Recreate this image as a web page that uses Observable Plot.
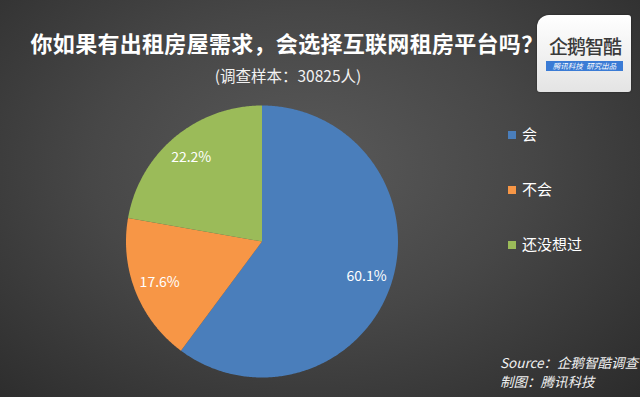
<!DOCTYPE html>
<html>
<head>
<meta charset="utf-8">
<script src="https://cdn.jsdelivr.net/npm/d3@7"></script>
<script src="https://cdn.jsdelivr.net/npm/@observablehq/plot@0.6"></script>
<style>
  html, body { margin: 0; padding: 0; }
  body { width: 640px; height: 397px; overflow: hidden; }
  #stage {
    position: relative; width: 640px; height: 397px;
    background: radial-gradient(ellipse 75% 85% at 48% 42%, #5a5a5a 0%, #474747 45%, #2a2a2a 100%);
    font-family: "Noto Sans CJK SC", "Noto Sans", sans-serif;
    color: #fff;
  }
  #title {
    position: absolute; left: 5px; width: 564px; top: 26px; text-align: center;
    font-size: 22px; font-weight: bold; letter-spacing: 0.3px; line-height: 32px;
  }
  #subtitle {
    position: absolute; left: 6px; width: 564px; top: 64px; text-align: center;
    font-size: 15.5px; line-height: 22px; color: #f2f2f2;
  }
  #logo {
    position: absolute; left: 537px; top: 15px; width: 94px; height: 77px;
    background: linear-gradient(#ffffff, #e4e4e4);
    border-radius: 12px 3px 3px 3px;
    box-shadow: 0 0 2px rgba(0,0,0,0.5);
  }
  #logo .name {
    position: absolute; left: 4px; top: 21px; width: 88px; text-align: center;
    font-size: 19px; line-height: 20px; color: #3a3a3a; font-weight: 500; letter-spacing: -1px;
  }
  #logo .band {
    position: absolute; left: 9px; top: 46px; width: 77px; height: 10px;
    background: #3a7bd5; color: #fff; font-size: 7.5px; line-height: 10px;
    text-align: center; font-style: italic; white-space: nowrap;
  }
  #chart { position: absolute; left: 0; top: 0; }
  #legend { position: absolute; left: 508px; top: 0; }
  .lg { position: absolute; left: 0; white-space: nowrap; font-size: 15px; line-height: 20px; }
  .lg i { display: inline-block; width: 8px; height: 8px; margin-right: 6px; vertical-align: 1px; }
  #source {
    position: absolute; left: 500px; top: 353px; font-size: 13.5px; line-height: 19px;
    font-style: italic; color: #f0f0f0;
  }
</style>
</head>
<body>
<div id="stage">
  <div id="title"></div>
  <div id="subtitle"></div>
  <div id="logo"><div class="name">企鹅智酷</div><div class="band">腾讯科技&nbsp;&nbsp;研究出品</div></div>
  <div id="chart"></div>
  <div id="legend"></div>
  <div id="source"></div>
</div>
<script>
const titleText = "你如果有出租房屋需求，会选择互联网租房平台吗？";
const subtitleText = "(调查样本：30825人)";
const categories = ["会", "不会", "还没想过"];
const values = [60.1, 17.6, 22.2];
const colors = ["#4a7ebb", "#f79646", "#9bbb59"];
const sourceLines = ["Source：企鹅智酷调查", "制图：腾讯科技"];

document.getElementById("title").textContent = titleText;
document.getElementById("subtitle").textContent = subtitleText;
document.getElementById("source").innerHTML = sourceLines.map(s => `<div>${s}</div>`).join("");

const legend = document.getElementById("legend");
const legendTops = [124, 179, 234];
categories.forEach((c, i) => {
  const d = document.createElement("div");
  d.className = "lg";
  d.style.top = legendTops[i] + "px";
  d.innerHTML = `<i style="background:${colors[i]}"></i>${c}`;
  legend.appendChild(d);
});

// build slice polygons from the data (clockwise from 12 o'clock)
const total = d3.sum(values);
const pts = [];
const labels = [];
let acc = 0;
values.forEach((v, i) => {
  const a0 = acc / total * 2 * Math.PI;
  acc += v;
  const a1 = acc / total * 2 * Math.PI;
  pts.push({cat: categories[i], x: 0, y: 0});
  const n = Math.max(4, Math.ceil((a1 - a0) / 0.01));
  for (let k = 0; k <= n; k++) {
    const a = a0 + (a1 - a0) * k / n;
    pts.push({cat: categories[i], x: Math.sin(a), y: Math.cos(a)});
  }
  const am = (a0 + a1) / 2, r = 0.81;
  labels.push({cat: categories[i], x: r * Math.sin(am), y: r * Math.cos(am), text: v.toFixed(1) + "%"});
});

const plot = Plot.plot({
  width: 640, height: 397,
  marginLeft: 125.5, marginRight: 242.5, marginTop: 105, marginBottom: 20,
  x: {domain: [-1, 1], axis: null},
  y: {domain: [-1, 1], axis: null},
  color: {domain: categories, range: colors},
  style: {background: "transparent", color: "white", fontFamily: "'Noto Sans CJK SC', sans-serif"},
  marks: [
    Plot.line(pts, {x: "x", y: "y", z: "cat", fill: "cat", stroke: "none", curve: "linear-closed"}),
    Plot.text(labels, {x: "x", y: "y", text: "text", fill: "white", fontSize: 14})
  ]
});
document.getElementById("chart").appendChild(plot);
</script>
</body>
</html>
